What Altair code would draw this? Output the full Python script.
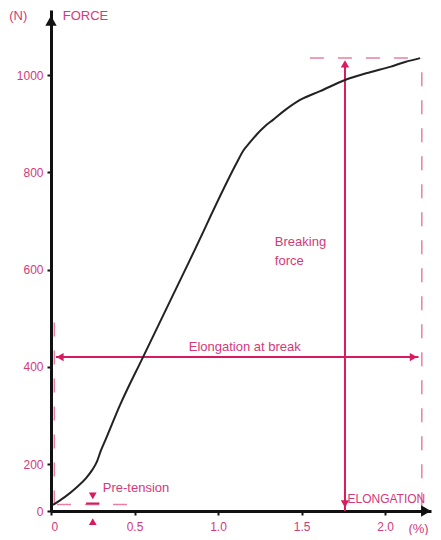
import altair as alt
import pandas as pd

# ---- data ----
elongation = [0.012, 0.084, 0.156, 0.21, 0.246, 0.275, 0.299, 0.323, 0.413, 0.551, 0.832, 1.108,
              1.15, 1.192, 1.234, 1.281, 1.329, 1.401, 1.491, 1.611, 1.76, 1.91, 2.03, 2.12, 2.21]
force = [26, 60, 102, 140, 174, 205, 228, 247, 321, 420, 620, 817,
         844, 862, 879, 895, 908, 928, 949, 967, 990, 1006, 1017, 1027, 1035]

x_ticks = [0, 0.5, 1.0, 1.5, 2.0]
y_ticks = [0, 200, 400, 600, 800, 1000]

break_elong = 2.22
break_force = 1035
pre_tension = 28
pre_tension_elong = 0.25
breaking_arrow_x = 1.76
elong_arrow_y = 420

PINK = "#d81b60"
PINK_TXT = "#d4397a"
PINK_DASH = "#e9809f"
FONT = "Liberation Sans"

curve_df = pd.DataFrame({"x": elongation, "y": force})

solid_df = pd.DataFrame({
    "x":  [breaking_arrow_x, 0.03, 0.21],
    "y":  [0, elong_arrow_y, pre_tension + 4],
    "x2": [breaking_arrow_x, 2.2, 0.29],
    "y2": [break_force - 8, elong_arrow_y, pre_tension + 4],
})

dash_df = pd.DataFrame({
    "x":  [0.02, break_elong, 1.55, 0.036],
    "y":  [pre_tension, 20, break_force, pre_tension],
    "x2": [0.02, break_elong, break_elong, 0.506],
    "y2": [500, break_force, break_force, pre_tension],
})

arrow_df = pd.DataFrame({
    "x": [0, 2.245, breaking_arrow_x, breaking_arrow_x, 0.054, 2.17, pre_tension_elong, pre_tension_elong],
    "y": [1112, 0, 1023, 30, elong_arrow_y, elong_arrow_y, 64, -45],
    "shape": ["triangle-up", "triangle-right", "triangle-up", "triangle-down",
              "triangle-left", "triangle-right", "triangle-down", "triangle-up"],
    "size": [130, 130, 70, 70, 70, 70, 60, 60],
    "color": ["#111", "#111", PINK, PINK, PINK, PINK, PINK, PINK],
})

text_left_df = pd.DataFrame({
    "x": [-0.25, 0.07, 1.775, 2.14, 1.34, 1.34, 0.31],
    "y": [1122, 1122, 50, -75, 657, 617, 98],
    "text": ["(N)", "FORCE", "ELONGATION", "(%)", "Breaking", "force", "Pre-tension"],
    "fs": [13, 13, 12, 13, 13, 13, 13],
})

text_center_df = pd.DataFrame({
    "x": [1.16],
    "y": [440],
    "text": ["Elongation at break"],
})

xs = alt.Scale(domain=[0, 2.275], nice=False, zero=False)
ys = alt.Scale(domain=[0, 200, 1134], range=[501, 454, 0], nice=False, zero=False)

xaxis = alt.Axis(values=x_ticks, title=None, grid=False, domain=True, domainColor="#111",
                 domainWidth=3, tickColor="#111", tickWidth=2, tickSize=4,
                 labelColor=PINK_TXT, labelFont=FONT, labelFontSize=12, labelPadding=6,
                 labelExpr="datum.value == 0 ? '0' : format(datum.value, '.1f')")
yaxis = alt.Axis(values=y_ticks, title=None, grid=False, domain=True, domainColor="#111",
                 domainWidth=3, tickColor="#111", tickWidth=2, tickSize=4, format="d",
                 labelColor=PINK_TXT, labelFont=FONT, labelFontSize=12, labelPadding=4)

X = alt.X("x:Q", scale=xs, axis=xaxis)
Y = alt.Y("y:Q", scale=ys, axis=yaxis)

curve = alt.Chart(curve_df).mark_line(color="#222", strokeWidth=2, interpolate="monotone").encode(x=X, y=Y)

solid = alt.Chart(solid_df).mark_rule(color=PINK, strokeWidth=2).encode(
    x=X, y=Y, x2="x2:Q", y2="y2:Q")

dashed = alt.Chart(dash_df).mark_rule(color=PINK_DASH, strokeWidth=1.5, strokeDash=[14, 14]).encode(
    x=X, y=Y, x2="x2:Q", y2="y2:Q")

arrows = alt.Chart(arrow_df).mark_point(filled=True, opacity=1, strokeWidth=0).encode(
    x=X, y=Y,
    shape=alt.Shape("shape:N", scale=None),
    size=alt.Size("size:Q", scale=None),
    color=alt.Color("color:N", scale=None),
)

texts_left = alt.Chart(text_left_df).mark_text(
    align="left", baseline="middle", font=FONT, color=PINK_TXT).encode(
    x=X, y=Y, text="text:N", size=alt.Size("fs:Q", scale=None))

texts_center = alt.Chart(text_center_df).mark_text(
    align="center", baseline="middle", font=FONT, fontSize=13, color=PINK_TXT).encode(
    x=X, y=Y, text="text:N")

chart = alt.layer(dashed, solid, curve, arrows, texts_left, texts_center).properties(
    width=380, height=501,
    autosize=alt.AutoSizeParams(type="none"),
    padding={"left": 43, "top": 2, "right": 2, "bottom": 24},
    background="white",
).configure_view(stroke=None)

chart.save("out.html", embed_options={"renderer": "svg", "actions": False})
